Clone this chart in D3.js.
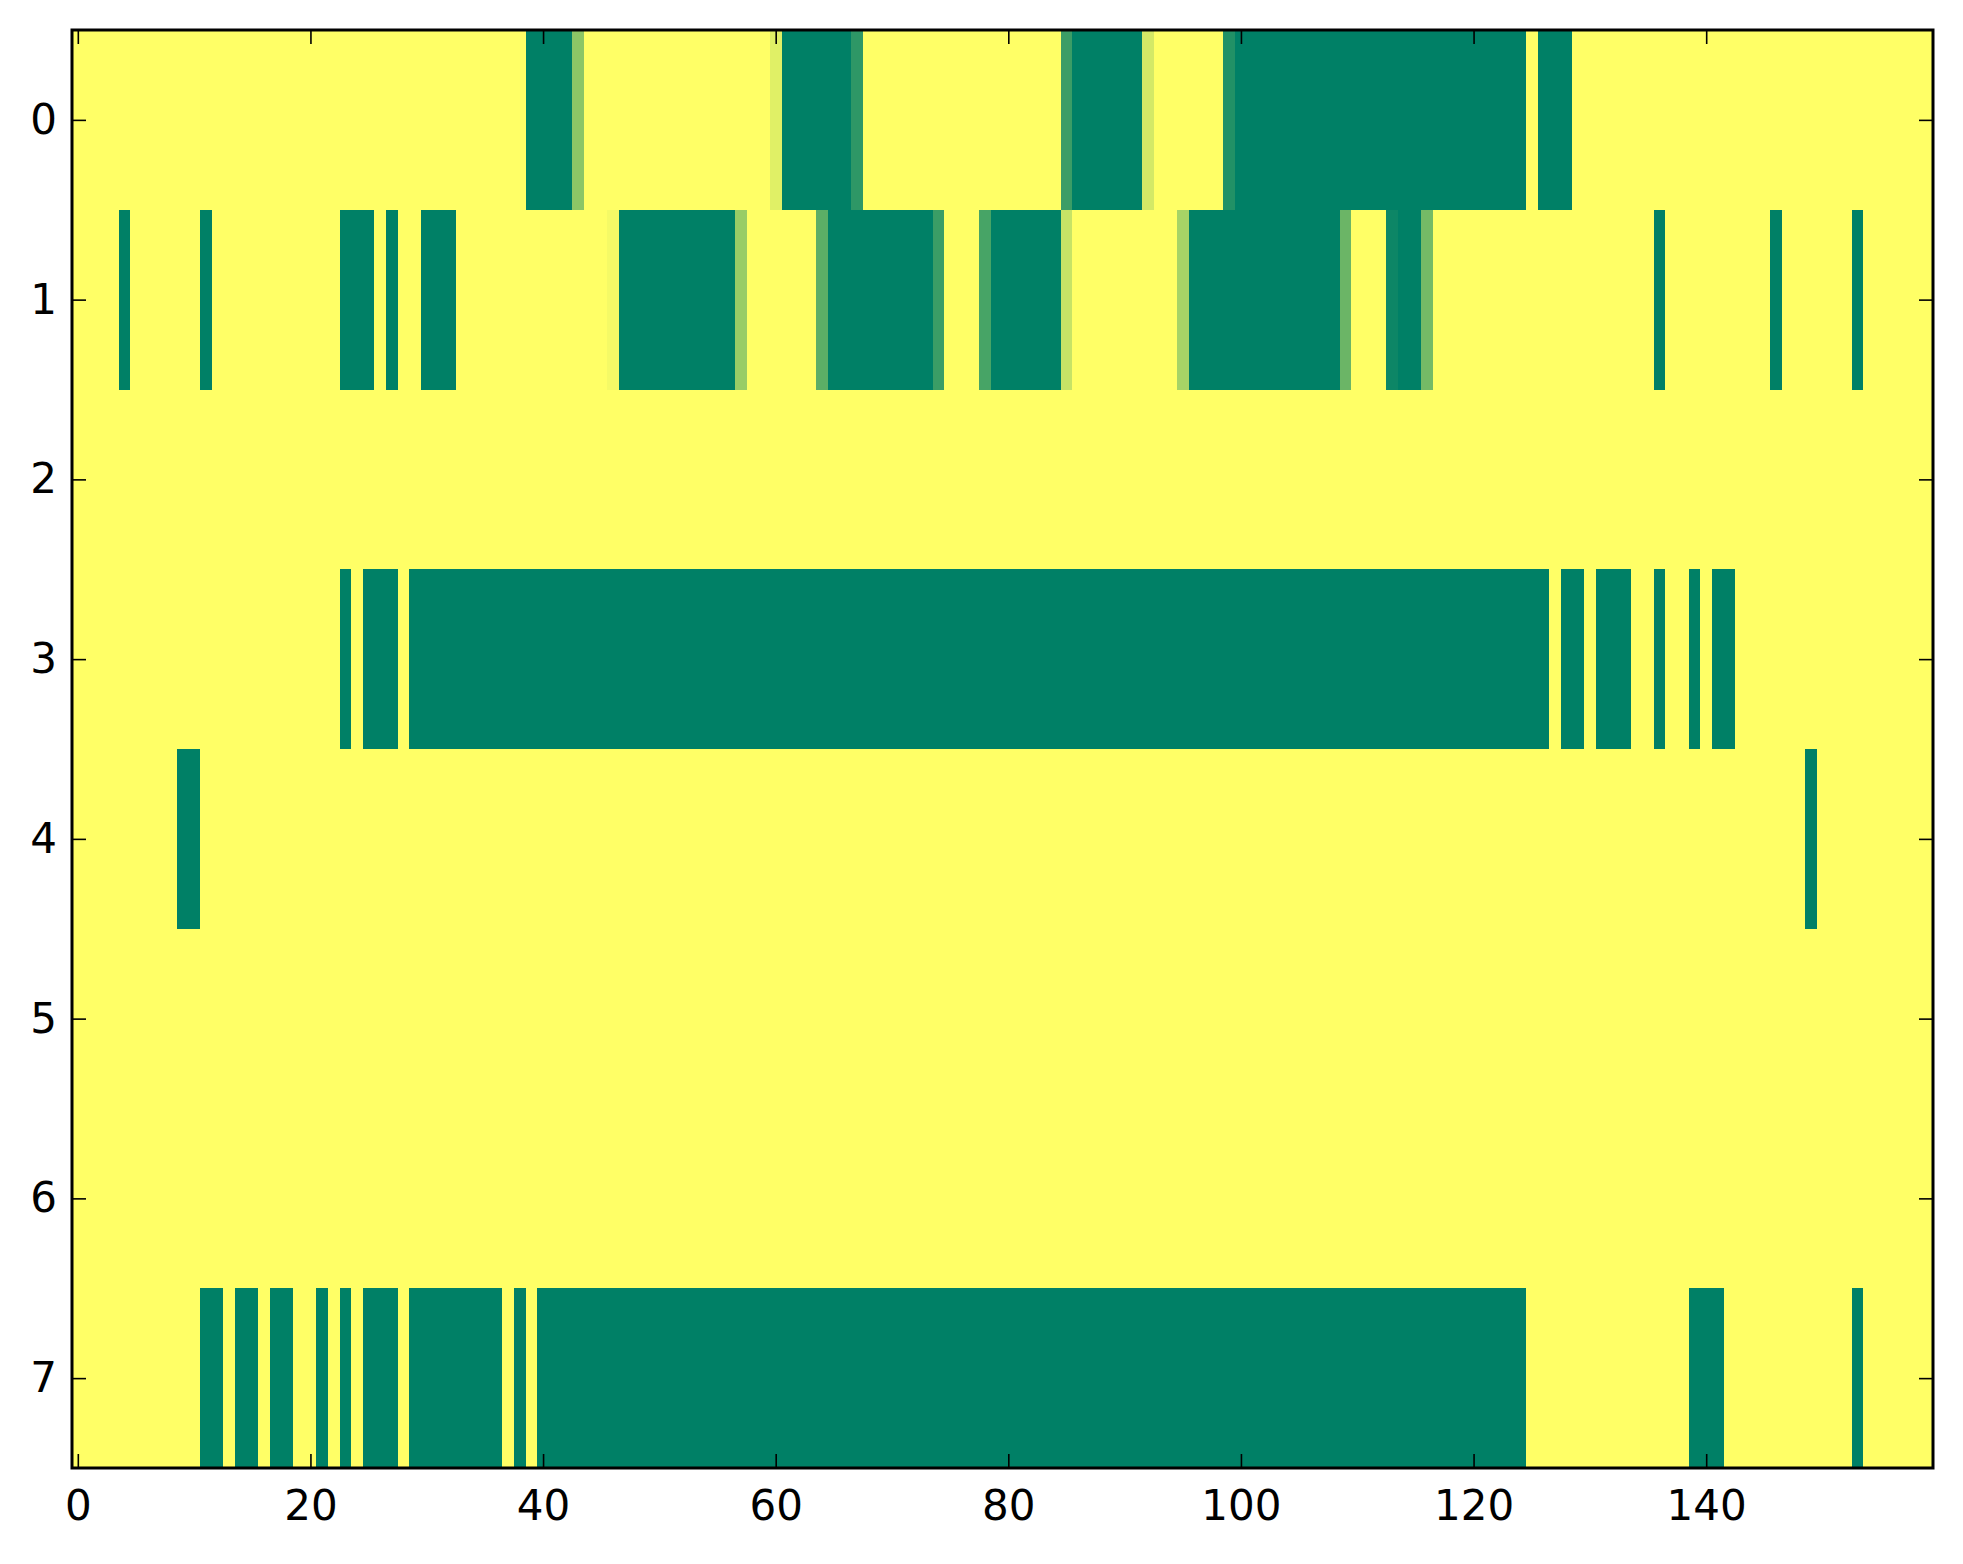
<!DOCTYPE html>
<html>
<head>
<meta charset="utf-8">
<script src="https://cdn.jsdelivr.net/npm/d3@7"></script>
<style>
  body { margin: 0; background: #fff; }
  .tick text { font-family: "DejaVu Sans", sans-serif; font-size: 42px; fill: #000; }
</style>
</head>
<body>
<div id="chart"></div>
<script>
// Heatmap values, one array per row (160 columns each), 0 = yellow, 1 = green
const row0 = [
  0,0,0,0,0,0,0,0,0,0, 0,0,0,0,0,0,0,0,0,0,
  0,0,0,0,0,0,0,0,0,0, 0,0,0,0,0,0,0,0,0,1,
  1,1,1,0.45,0,0,0,0,0,0, 0,0,0,0,0,0,0,0,0,0,
  0.12,1,1,1,1,1,1,0.82,0,0, 0,0,0,0,0,0,0,0,0,0,
  0,0,0,0,0,0.77,1,1,1,1, 1,1,0.17,0,0,0,0,0,0,0.87,
  1,1,1,1,1,1,1,1,1,1, 1,1,1,1,1,1,1,1,1,1,
  1,1,1,1,1,0,1,1,1,0, 0,0,0,0,0,0,0,0,0,0,
  0,0,0,0,0,0,0,0,0,0, 0,0,0,0,0,0,0,0,0,0
];
const row1 = [
  0,0,0,0,1,0,0,0,0,0, 0,1,0,0,0,0,0,0,0,0,
  0,0,0,1,1,1,0,1,0,0, 1,1,1,0,0,0,0,0,0,0,
  0,0,0,0,0,0,0.04,1,1,1, 1,1,1,1,1,1,1,0.4,0,0,
  0,0,0,0,0.64,1,1,1,1,1, 1,1,1,1,0.77,0,0,0,0.72,1,
  1,1,1,1,1,0.22,0,0,0,0, 0,0,0,0,0,0.35,1,1,1,1,
  1,1,1,1,1,1,1,1,1,0.58, 0,0,0,0.95,1,1,0.54,0,0,0,
  0,0,0,0,0,0,0,0,0,0, 0,0,0,0,0,0,1,0,0,0,
  0,0,0,0,0,0,1,0,0,0, 0,0,0,1,0,0,0,0,0,0
];
const row2 = [
  0,0,0,0,0,0,0,0,0,0, 0,0,0,0,0,0,0,0,0,0,
  0,0,0,0,0,0,0,0,0,0, 0,0,0,0,0,0,0,0,0,0,
  0,0,0,0,0,0,0,0,0,0, 0,0,0,0,0,0,0,0,0,0,
  0,0,0,0,0,0,0,0,0,0, 0,0,0,0,0,0,0,0,0,0,
  0,0,0,0,0,0,0,0,0,0, 0,0,0,0,0,0,0,0,0,0,
  0,0,0,0,0,0,0,0,0,0, 0,0,0,0,0,0,0,0,0,0,
  0,0,0,0,0,0,0,0,0,0, 0,0,0,0,0,0,0,0,0,0,
  0,0,0,0,0,0,0,0,0,0, 0,0,0,0,0,0,0,0,0,0
];
const row3 = [
  0,0,0,0,0,0,0,0,0,0, 0,0,0,0,0,0,0,0,0,0,
  0,0,0,1,0,1,1,1,0,1, 1,1,1,1,1,1,1,1,1,1,
  1,1,1,1,1,1,1,1,1,1, 1,1,1,1,1,1,1,1,1,1,
  1,1,1,1,1,1,1,1,1,1, 1,1,1,1,1,1,1,1,1,1,
  1,1,1,1,1,1,1,1,1,1, 1,1,1,1,1,1,1,1,1,1,
  1,1,1,1,1,1,1,1,1,1, 1,1,1,1,1,1,1,1,1,1,
  1,1,1,1,1,1,1,0,1,1, 0,1,1,1,0,0,1,0,0,1,
  0,1,1,0,0,0,0,0,0,0, 0,0,0,0,0,0,0,0,0,0
];
const row4 = [
  0,0,0,0,0,0,0,0,0,1, 1,0,0,0,0,0,0,0,0,0,
  0,0,0,0,0,0,0,0,0,0, 0,0,0,0,0,0,0,0,0,0,
  0,0,0,0,0,0,0,0,0,0, 0,0,0,0,0,0,0,0,0,0,
  0,0,0,0,0,0,0,0,0,0, 0,0,0,0,0,0,0,0,0,0,
  0,0,0,0,0,0,0,0,0,0, 0,0,0,0,0,0,0,0,0,0,
  0,0,0,0,0,0,0,0,0,0, 0,0,0,0,0,0,0,0,0,0,
  0,0,0,0,0,0,0,0,0,0, 0,0,0,0,0,0,0,0,0,0,
  0,0,0,0,0,0,0,0,0,1, 0,0,0,0,0,0,0,0,0,0
];
const row5 = row2.slice();
const row6 = row2.slice();
const row7 = [
  0,0,0,0,0,0,0,0,0,0, 0,1,1,0,1,1,0,1,1,0,
  0,1,0,1,0,1,1,1,0,1, 1,1,1,1,1,1,1,0,1,0,
  1,1,1,1,1,1,1,1,1,1, 1,1,1,1,1,1,1,1,1,1,
  1,1,1,1,1,1,1,1,1,1, 1,1,1,1,1,1,1,1,1,1,
  1,1,1,1,1,1,1,1,1,1, 1,1,1,1,1,1,1,1,1,1,
  1,1,1,1,1,1,1,1,1,1, 1,1,1,1,1,1,1,1,1,1,
  1,1,1,1,1,0,0,0,0,0, 0,0,0,0,0,0,0,0,0,1,
  1,1,0,0,0,0,0,0,0,0, 0,0,0,1,0,0,0,0,0,0
];
const rows = [row0, row1, row2, row3, row4, row5, row6, row7];

const xTicks = [0, 20, 40, 60, 80, 100, 120, 140];
const yTicks = [0, 1, 2, 3, 4, 5, 6, 7];

// Layout
const W = 1963, H = 1564;
const plotLeft = 72, plotRight = 1933, plotTop = 30, plotBottom = 1468;

const svg = d3.select("#chart")
    .append("svg")
    .attr("width", W)
    .attr("height", H);

const x = d3.scaleLinear().domain([-0.5, 159.5]).range([plotLeft, plotRight]);
const y = d3.scaleLinear().domain([-0.5, 7.5]).range([plotTop, plotBottom]);

// summer_r colour map
const color = d3.scaleLinear().domain([0, 1]).range(["#ffff66", "#008066"]);

const cells = [];
rows.forEach((r, ri) => r.forEach((v, ci) => cells.push({ row: ri, col: ci, v: v })));

svg.append("g")
    .attr("shape-rendering", "crispEdges")
    .selectAll("rect")
    .data(cells)
    .enter()
    .append("rect")
    .attr("x", d => x(d.col - 0.5))
    .attr("y", d => y(d.row - 0.5))
    .attr("width", d => x(d.col + 0.5) - x(d.col - 0.5) + 0.5)
    .attr("height", d => y(d.row + 0.5) - y(d.row - 0.5) + 0.5)
    .attr("fill", d => color(d.v));

// Axes, ticks pointing inward on all four sides
function styleAxis(g) {
    g.select(".domain").remove();
    g.selectAll(".tick line").attr("stroke", "#000").attr("stroke-width", 1.6);
}

svg.append("g")
    .attr("transform", `translate(0,${plotBottom})`)
    .call(d3.axisBottom(x).tickValues(xTicks).tickSizeInner(-14).tickSizeOuter(0).tickPadding(22))
    .call(styleAxis);

svg.append("g")
    .attr("transform", `translate(0,${plotTop})`)
    .call(d3.axisTop(x).tickValues(xTicks).tickSizeInner(-14).tickSizeOuter(0).tickFormat(""))
    .call(styleAxis);

svg.append("g")
    .attr("transform", `translate(${plotLeft},0)`)
    .call(d3.axisLeft(y).tickValues(yTicks).tickSizeInner(-14).tickSizeOuter(0).tickPadding(15))
    .call(styleAxis);

svg.append("g")
    .attr("transform", `translate(${plotRight},0)`)
    .call(d3.axisRight(y).tickValues(yTicks).tickSizeInner(-14).tickSizeOuter(0).tickFormat(""))
    .call(styleAxis);

// Frame
svg.append("rect")
    .attr("x", plotLeft)
    .attr("y", plotTop)
    .attr("width", plotRight - plotLeft)
    .attr("height", plotBottom - plotTop)
    .attr("fill", "none")
    .attr("stroke", "#000")
    .attr("stroke-width", 3);
</script>
</body>
</html>
